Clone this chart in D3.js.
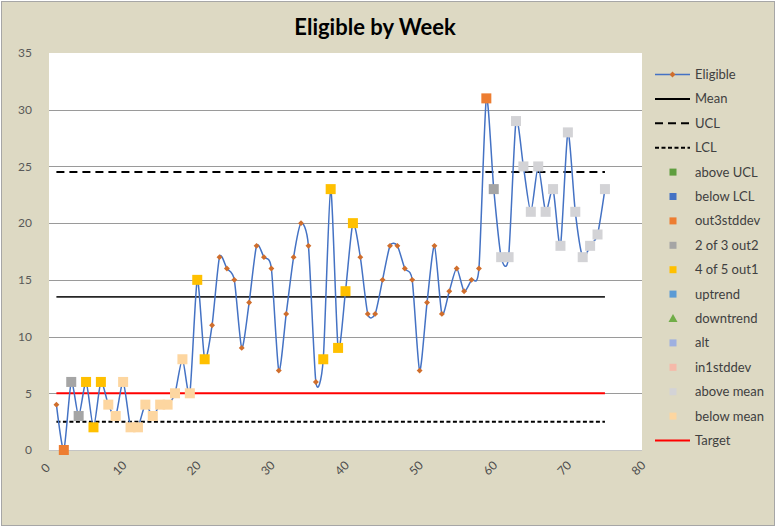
<!DOCTYPE html>
<html>

<head>
    <style>
        body { margin: 0; background: #fff; }
        svg text { font-family: Lato, "Open Sans", sans-serif; }
    </style>
</head>

<body>
    <script src="https://d3js.org/d3.v7.min.js"></script>
    <div id="chart"></div>
    <script>
        const width = 777
        const height = 528

        // week number of each point
        const weeks = [1, 2, 3, 4, 5, 6, 7, 8, 9, 10, 11, 12, 13, 14, 15, 16, 17, 18, 19, 20,
            21, 22, 23, 24, 25, 26, 27, 28, 29, 30, 31, 32, 33, 34, 35, 36, 37, 38, 39, 40,
            41, 42, 43, 44, 45, 46, 47, 48, 49, 50, 51, 52, 53, 54, 55, 56, 57, 58, 59, 60,
            61, 62, 63, 64, 65, 66, 67, 68, 69, 70, 71, 72, 73, 74, 75]
        const eligible = [4, 0, 6, 3, 6, 2, 6, 4, 3, 6, 2, 2, 4, 3, 4, 4, 5, 8, 5, 15,
            8, 11, 17, 16, 15, 9, 13, 18, 17, 16, 7, 12, 17, 20, 18, 6, 8, 23, 9, 14,
            20, 17, 12, 12, 15, 18, 18, 16, 15, 7, 13, 18, 12, 14, 16, 14, 15, 16, 31, 23,
            17, 17, 29, 25, 21, 25, 21, 23, 18, 28, 21, 17, 18, 19, 23]
        // rule hit for each week ("" = none)
        const flags = ["", "out3stddev", "2 of 3 out2", "2 of 3 out2", "4 of 5 out1", "4 of 5 out1", "4 of 5 out1",
            "below mean", "below mean", "below mean", "below mean", "below mean", "below mean",
            "below mean", "below mean", "below mean", "below mean", "below mean", "below mean",
            "4 of 5 out1", "4 of 5 out1",
            "", "", "", "", "", "", "", "", "", "", "", "", "", "", "",
            "4 of 5 out1", "4 of 5 out1", "4 of 5 out1", "4 of 5 out1", "4 of 5 out1",
            "", "", "", "", "", "", "", "", "", "", "", "", "", "", "", "", "",
            "out3stddev", "2 of 3 out2",
            "above mean", "above mean", "above mean", "above mean", "above mean",
            "above mean", "above mean", "above mean", "above mean", "above mean",
            "above mean", "above mean", "above mean", "above mean", "above mean"]

        const meanValue = 13.5
        const uclValue = 24.5
        const lclValue = 2.5
        const targetValue = 5

        const xTicks = [0, 10, 20, 30, 40, 50, 60, 70, 80]
        const yTicks = [0, 5, 10, 15, 20, 25, 30, 35]
        const legendNames = ["Eligible", "Mean", "UCL", "LCL", "above UCL", "below LCL", "out3stddev",
            "2 of 3 out2", "4 of 5 out1", "uptrend", "downtrend", "alt", "in1stddev", "above mean",
            "below mean", "Target"]

        const colors = {
            "above UCL": "#5f9e3f",
            "below LCL": "#4472c4",
            "out3stddev": "#ed7d31",
            "2 of 3 out2": "#a5a5a5",
            "4 of 5 out1": "#ffc000",
            "uptrend": "#5b9bd5",
            "downtrend": "#70ad47",
            "alt": "#9eb0e0",
            "in1stddev": "#f5b9a9",
            "above mean": "#d3d3d6",
            "below mean": "#fdd6a0"
        }
        const lineColor = "#4472c4"
        const markerColor = "#d06e2c"

        const svg = d3.select("#chart").append("svg")
            .attr("width", width)
            .attr("height", height)

        svg.append("rect")
            .attr("x", 1.5).attr("y", 1.5)
            .attr("width", 773).attr("height", 524)
            .attr("fill", "#ddd9c3")
            .attr("stroke", "#a6a6a6")

        svg.append("text")
            .text("Eligible by Week")
            .attr("x", 375)
            .attr("y", 35)
            .attr("text-anchor", "middle")
            .attr("font-size", 22)
            .attr("font-weight", "bold")
            .attr("fill", "#000")

        const xScale = d3.scaleLinear().domain([0, 80]).range([49, 642])
        const yScale = d3.scaleLinear().domain([0, 35]).range([450, 53])

        svg.append("rect")
            .attr("x", 49).attr("y", 53)
            .attr("width", 593).attr("height", 397)
            .attr("fill", "#fff")

        // gridlines
        svg.append("g")
            .selectAll("line")
            .data(yTicks.filter(v => v > 0 && v < 35))
            .enter()
            .append("line")
            .attr("x1", 49).attr("x2", 642)
            .attr("y1", d => Math.round(yScale(d)) + 0.5)
            .attr("y2", d => Math.round(yScale(d)) + 0.5)
            .attr("stroke", "#9a9a9a")

        svg.append("line")
            .attr("x1", 49).attr("x2", 642)
            .attr("y1", 450.5).attr("y2", 450.5)
            .attr("stroke", "#c4c4c4")

        const yAxis = d3.axisLeft(yScale).tickValues(yTicks).tickSize(0).tickPadding(17)
        const yG = svg.append("g")
            .attr("transform", "translate(49,0)")
            .call(yAxis)
        yG.select(".domain").remove()
        yG.selectAll("text")
            .attr("font-size", 12)
            .attr("fill", "#595959")

        const xAxis = d3.axisBottom(xScale).tickValues(xTicks).tickSize(0)
        const xG = svg.append("g")
            .attr("transform", "translate(0,450)")
            .call(xAxis)
        xG.select(".domain").remove()
        xG.selectAll("text")
            .attr("font-size", 12)
            .attr("fill", "#4d4d4d")
            .attr("y", 0)
            .attr("dy", "0.35em")
            .attr("text-anchor", "middle")
            .attr("transform", "translate(-4,18) rotate(-45)")
        yG.attr("font-family", null)
        xG.attr("font-family", null)

        // control lines
        const first = weeks[0]
        const last = weeks[weeks.length - 1]
        const hLine = (value, color, w, dash) => {
            svg.append("line")
                .attr("x1", xScale(first)).attr("x2", xScale(last))
                .attr("y1", yScale(value)).attr("y2", yScale(value))
                .attr("stroke", color)
                .attr("stroke-width", w)
                .attr("stroke-dasharray", dash)
        }
        hLine(meanValue, "#262626", 1.8, null)
        hLine(uclValue, "#000", 2, "8,5")
        hLine(lclValue, "#000", 2, "4,2.5")
        hLine(targetValue, "#ff0000", 2, null)

        const points = weeks.map((w, i) => ({ week: w, value: eligible[i], flag: flags[i] }))

        const line = d3.line()
            .x(d => xScale(d.week))
            .y(d => yScale(d.value))
            .curve(d3.curveCardinal.tension(0.3))

        svg.append("path")
            .datum(points)
            .attr("d", line)
            .attr("fill", "none")
            .attr("stroke", lineColor)
            .attr("stroke-width", 1.5)

        const diamond = d3.symbol().type(d3.symbolDiamond2).size(22)

        svg.append("g")
            .selectAll("path")
            .data(points)
            .enter()
            .append("path")
            .attr("d", diamond)
            .attr("transform", d => "translate(" + xScale(d.week) + "," + yScale(d.value) + ")")
            .attr("fill", markerColor)

        const sq = 10
        svg.append("g")
            .selectAll("rect")
            .data(points.filter(d => d.flag))
            .enter()
            .append("rect")
            .attr("x", d => xScale(d.week) - sq / 2)
            .attr("y", d => yScale(d.value) - sq / 2)
            .attr("width", sq)
            .attr("height", sq)
            .attr("fill", d => colors[d.flag])

        // legend
        const legend = svg.append("g")
            .attr("transform", "translate(655,0)")

        legendNames.forEach((name, i) => {
            const yPos = 74.5 + i * 24.4
            const item = legend.append("g")
                .attr("transform", "translate(0," + yPos + ")")
            if (name === "Eligible") {
                item.append("line").attr("x1", 0).attr("x2", 35)
                    .attr("stroke", lineColor).attr("stroke-width", 1.5)
                item.append("path").attr("d", diamond)
                    .attr("transform", "translate(17.5,0)")
                    .attr("fill", markerColor)
            } else if (name === "Mean" || name === "UCL" || name === "LCL" || name === "Target") {
                const dash = name === "UCL" ? "8,5" : name === "LCL" ? "4,2.5" : null
                item.append("line").attr("x1", 0).attr("x2", 35)
                    .attr("stroke", name === "Target" ? "#ff0000" : "#000")
                    .attr("stroke-width", 2)
                    .attr("stroke-dasharray", dash)
            } else if (name === "downtrend") {
                item.append("path")
                    .attr("d", "M18,-4.5L22.5,3.5L13.5,3.5Z")
                    .attr("fill", colors[name])
            } else {
                item.append("rect")
                    .attr("x", 14.5).attr("y", -3.5)
                    .attr("width", 7).attr("height", 7)
                    .attr("fill", colors[name])
            }
            item.append("text")
                .text(name)
                .attr("x", 40)
                .attr("dy", "0.35em")
                .attr("font-size", 13)
                .attr("fill", "#404040")
        })
    </script>
</body>

</html>
